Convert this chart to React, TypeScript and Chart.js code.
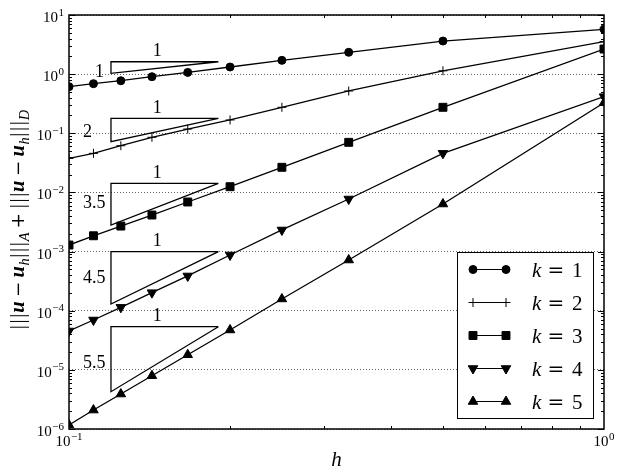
import React, { useEffect, useRef } from 'react';
import { Chart, registerables } from 'chart.js';
import { drawPoint } from 'chart.js/helpers';

Chart.register(...registerables);

// ---------- data ----------
const hValues = [0.1, 0.1111, 0.125, 0.1429, 0.1667, 0.2, 0.25, 0.3333, 0.5, 1.0];
const errK1 = [0.614, 0.69, 0.774, 0.905, 1.07, 1.32, 1.71, 2.34, 3.63, 5.73];
const errK2 = [0.0377, 0.0458, 0.0616, 0.0855, 0.118, 0.168, 0.275, 0.519, 1.14, 3.54];
const errK3 = [0.00129, 0.00185, 0.0027, 0.00415, 0.00689, 0.0125, 0.0266, 0.0703, 0.275, 2.66];
const errK4 = [4.54e-5, 6.97e-5, 1.14e-4, 2.02e-4, 3.87e-4, 8.75e-4, 0.00232, 0.00774, 0.0458, 0.416];
const errK5 = [1.17e-6, 2.09e-6, 3.9e-6, 7.96e-6, 1.8e-5, 4.72e-5, 1.58e-4, 7.2e-4, 0.00637, 0.329];
const seriesK = ['1', '2', '3', '4', '5'];

// slope triangles
const slopeLabels = ['1', '2', '3.5', '4.5', '5.5'];
const triH = [0.1198, 0.1902];
const triTop = [1.62, 0.179, 0.01425, 0.001, 5.37e-5];
const triBottom = [1.03, 0.0721, 0.00281, 1.3e-4, 4.27e-6];

// axis ticks (exponents of 10)
const yTickExps = [-6, -5, -4, -3, -2, -1, 0, 1];
const xTickExps = [-1, 0];
const xLabel = 'h';

// ---------- styles / layout ----------
const SERIF = '"Liberation Serif", "DejaVu Serif", serif';
const DSERIF = '"DejaVu Serif", serif';
const markerStyles = [
  { pointStyle: 'circle', radius: 4, rotation: 0 },
  { pointStyle: 'cross', radius: 4.5, rotation: 0 },
  { pointStyle: 'rect', radius: 5.6, rotation: 0 },
  { pointStyle: 'triangle', radius: 5.5, rotation: 180 },
  { pointStyle: 'triangle', radius: 5.5, rotation: 0 },
];
const ANNOT = {
  leftX: [95, 83, 83, 83, 83],
  dy: [5, 2, -1, 0, 4],
};
const LEGEND = { x: 457, y: 252, w: 136, h: 166, row0: 269.5, step: 33, l0: 473, l1: 506, tx: 532 };

const expStr = (e: number) => (e < 0 ? '\u2212' : '') + Math.abs(e);

const decorPlugin = {
  id: 'decor',
  afterDraw(chart: any) {
    const ctx: CanvasRenderingContext2D = chart.ctx;
    const { left, right, top, bottom } = chart.chartArea;
    const xs = chart.scales.x;
    const ys = chart.scales.y;
    ctx.save();
    ctx.strokeStyle = '#000';
    ctx.fillStyle = '#000';
    ctx.lineWidth = 1;
    const seg = (x0: number, y0: number, x1: number, y1: number) => {
      ctx.beginPath();
      ctx.moveTo(x0, y0);
      ctx.lineTo(x1, y1);
      ctx.stroke();
    };
    // y ticks
    const yMin = yTickExps[0];
    const yMax = yTickExps[yTickExps.length - 1];
    for (let e = yMin; e < yMax; e++) {
      for (let m = 2; m <= 9; m++) {
        const py = Math.round(ys.getPixelForValue(m * Math.pow(10, e))) + 0.5;
        seg(left, py, left + 3, py);
        seg(right - 3, py, right, py);
      }
    }
    yTickExps.forEach((e) => {
      const py = Math.round(ys.getPixelForValue(Math.pow(10, e))) + 0.5;
      seg(left, py, left + 6, py);
      seg(right - 6, py, right, py);
    });
    // x minor ticks
    for (let e = xTickExps[0]; e < xTickExps[xTickExps.length - 1]; e++) {
      for (let m = 2; m <= 9; m++) {
        const px = Math.round(xs.getPixelForValue(m * Math.pow(10, e))) + 0.5;
        seg(px, bottom, px, bottom - 3);
        seg(px, top, px, top + 3);
      }
    }
    // frame
    ctx.lineWidth = 1.5;
    ctx.strokeRect(left, top, right - left, bottom - top);

    // tick labels
    const baseFont = `15px ${SERIF}`;
    const expFont = `11px ${SERIF}`;
    ctx.textBaseline = 'alphabetic';
    ctx.textAlign = 'left';
    yTickExps.forEach((e) => {
      const py = ys.getPixelForValue(Math.pow(10, e));
      ctx.font = baseFont;
      const wb = ctx.measureText('10').width;
      ctx.font = expFont;
      const we = ctx.measureText(expStr(e)).width;
      const xr = left - 5;
      ctx.font = baseFont;
      ctx.fillText('10', xr - we - wb - 0.5, py + 7);
      ctx.font = expFont;
      ctx.fillText(expStr(e), xr - we, py + 0.5);
    });
    xTickExps.forEach((e) => {
      const px = xs.getPixelForValue(Math.pow(10, e));
      ctx.font = baseFont;
      const wb = ctx.measureText('10').width;
      ctx.font = expFont;
      const we = ctx.measureText(expStr(e)).width;
      const x0 = px - (wb + we + 0.5) / 2;
      ctx.font = baseFont;
      ctx.fillText('10', x0, bottom + 17);
      ctx.font = expFont;
      ctx.fillText(expStr(e), x0 + wb + 0.5, bottom + 10.5);
    });

    // x title
    ctx.font = `italic 21px ${SERIF}`;
    ctx.textAlign = 'center';
    ctx.fillText(xLabel, (left + right) / 2, 466);

    // y title (rich text, rotated)
    const R = `20px ${SERIF}`;
    const RD = `18px ${DSERIF}`;
    const BI = `italic bold 20px ${SERIF}`;
    const SI = `italic 14px ${SERIF}`;
    type Seg = { t: string; f: string; dy?: number; w?: number; pre?: number; post?: number };
    const bars: Seg[] = [
      { t: '|', f: R, w: 5.6 },
      { t: '|', f: R, w: 5.6 },
      { t: '|', f: R, w: 5.6 },
    ];
    const u: Seg = { t: 'u', f: BI, post: 0.5 };
    const sub = (t: string): Seg => ({ t, f: SI, dy: 4.5 });
    const op = (t: string): Seg => ({ t, f: RD, pre: 4, post: 4 });
    const segs: Seg[] = [
      ...bars, u, op('\u2212'), u, sub('h'), ...bars, sub('A'), op('+'),
      ...bars, u, op('\u2212'), u, sub('h'), ...bars, sub('D'),
    ];
    let total = 0;
    const widths = segs.map((s) => {
      ctx.font = s.f;
      const w = (s.w ?? ctx.measureText(s.t).width) + (s.pre || 0) + (s.post || 0);
      total += w;
      return w;
    });
    const target = 220;
    ctx.translate(19, 220);
    ctx.rotate(-Math.PI / 2);
    ctx.scale(target / total, 1);
    ctx.textAlign = 'left';
    let cx = -total / 2;
    segs.forEach((s, i) => {
      ctx.font = s.f;
      if (s.w != null) {
        const gw = ctx.measureText(s.t).width;
        ctx.fillText(s.t, cx + (s.w - gw) / 2, 5 + (s.dy || 0));
      } else {
        ctx.fillText(s.t, cx + (s.pre || 0), 5 + (s.dy || 0));
      }
      cx += widths[i];
    });
    ctx.restore();

    // slope triangle labels
    ctx.save();
    ctx.fillStyle = '#000';
    ctx.font = `18px ${SERIF}`;
    ctx.textBaseline = 'middle';
    const x0p = xs.getPixelForValue(triH[0]);
    const x1p = xs.getPixelForValue(triH[1]);
    slopeLabels.forEach((lab, i) => {
      const tp = ys.getPixelForValue(triTop[i]);
      const bp = ys.getPixelForValue(triBottom[i]);
      ctx.textAlign = 'center';
      ctx.fillText('1', x0p + (x1p - x0p) * 0.43, tp - 10);
      ctx.textAlign = 'left';
      ctx.fillText(lab, ANNOT.leftX[i], (tp + bp) / 2 + ANNOT.dy[i]);
    });
    ctx.restore();

    // legend
    ctx.save();
    ctx.fillStyle = '#fff';
    ctx.fillRect(LEGEND.x, LEGEND.y, LEGEND.w, LEGEND.h);
    ctx.strokeStyle = '#000';
    ctx.lineWidth = 1;
    ctx.strokeRect(LEGEND.x + 0.5, LEGEND.y + 0.5, LEGEND.w, LEGEND.h);
    seriesK.forEach((k, i) => {
      const y = LEGEND.row0 + i * LEGEND.step;
      ctx.strokeStyle = '#000';
      ctx.fillStyle = '#000';
      ctx.lineWidth = 1.2;
      ctx.beginPath();
      ctx.moveTo(LEGEND.l0, y);
      ctx.lineTo(LEGEND.l1, y);
      ctx.stroke();
      const ms = markerStyles[i];
      ctx.lineWidth = 1;
      const opts: any = { pointStyle: ms.pointStyle, radius: ms.radius, rotation: ms.rotation, borderWidth: 1 };
      drawPoint(ctx, opts, LEGEND.l0, y);
      drawPoint(ctx, opts, LEGEND.l1, y);
      ctx.textBaseline = 'alphabetic';
      ctx.textAlign = 'left';
      ctx.font = `italic 21px ${SERIF}`;
      ctx.fillText('k', LEGEND.tx, y + 7);
      ctx.font = `20px ${DSERIF}`;
      ctx.textAlign = 'center';
      ctx.fillText('=', LEGEND.tx + 24, y + 7);
      ctx.font = `21px ${SERIF}`;
      ctx.textAlign = 'left';
      ctx.fillText(k, LEGEND.tx + 40, y + 7);
    });
    ctx.restore();
  },
};

export default function App() {
  const ref = useRef<HTMLCanvasElement | null>(null);
  useEffect(() => {
    if (!ref.current) return;
    const series = [errK1, errK2, errK3, errK4, errK5];
    const dataSets: any[] = series.map((arr, i) => ({
      type: 'line',
      label: 'k = ' + seriesK[i],
      data: hValues.map((h, j) => ({ x: h, y: arr[j] })),
      borderColor: '#000',
      borderWidth: 1.3,
      backgroundColor: '#000',
      pointStyle: markerStyles[i].pointStyle,
      pointRadius: markerStyles[i].radius,
      pointRotation: markerStyles[i].rotation,
      pointBackgroundColor: '#000',
      pointBorderColor: '#000',
      pointBorderWidth: 1,
      tension: 0,
      clip: 0,
      fill: false,
    }));
    const triSets: any[] = slopeLabels.map((lab, i) => ({
      type: 'line',
      label: 'slope ' + lab,
      data: [
        { x: triH[1], y: triTop[i] },
        { x: triH[0], y: triTop[i] },
        { x: triH[0], y: triBottom[i] },
        { x: triH[1], y: triTop[i] },
      ],
      borderColor: '#000',
      borderWidth: 1.3,
      borderJoinStyle: 'miter',
      pointRadius: 0,
      tension: 0,
      fill: false,
    }));
    const chart = new Chart(ref.current, {
      type: 'line',
      data: { datasets: [...triSets, ...dataSets] },
      options: {
        responsive: false,
        animation: false,
        devicePixelRatio: 1,
        layout: { padding: { left: 0, right: 19, top: 15, bottom: 0 } },
        plugins: {
          legend: { display: false },
          tooltip: { enabled: false },
          title: { display: false },
        },
        scales: {
          x: {
            type: 'logarithmic',
            min: 0.1,
            max: 1,
            afterFit: (s: any) => { s.height = 46; },
            afterBuildTicks: (s: any) => { s.ticks = xTickExps.map((e) => ({ value: Math.pow(10, e) })); },
            ticks: { display: false },
            grid: { display: false },
            border: { display: false },
          },
          y: {
            type: 'logarithmic',
            min: 1e-6,
            max: 10,
            afterFit: (s: any) => { s.width = 69; },
            afterBuildTicks: (s: any) => { s.ticks = yTickExps.map((e) => ({ value: Math.pow(10, e) })); },
            ticks: { display: false },
            grid: { color: '#666', lineWidth: 1, drawTicks: false },
            border: { display: false, dash: [1, 2] },
          },
        },
      } as any,
      plugins: [decorPlugin],
    });
    return () => chart.destroy();
  }, []);
  return (
    <div style={{ position: 'fixed', left: 0, top: 0, width: 623, height: 475, background: '#fff' }}>
      <canvas ref={ref} width={623} height={475} style={{ display: 'block' }} />
    </div>
  );
}
